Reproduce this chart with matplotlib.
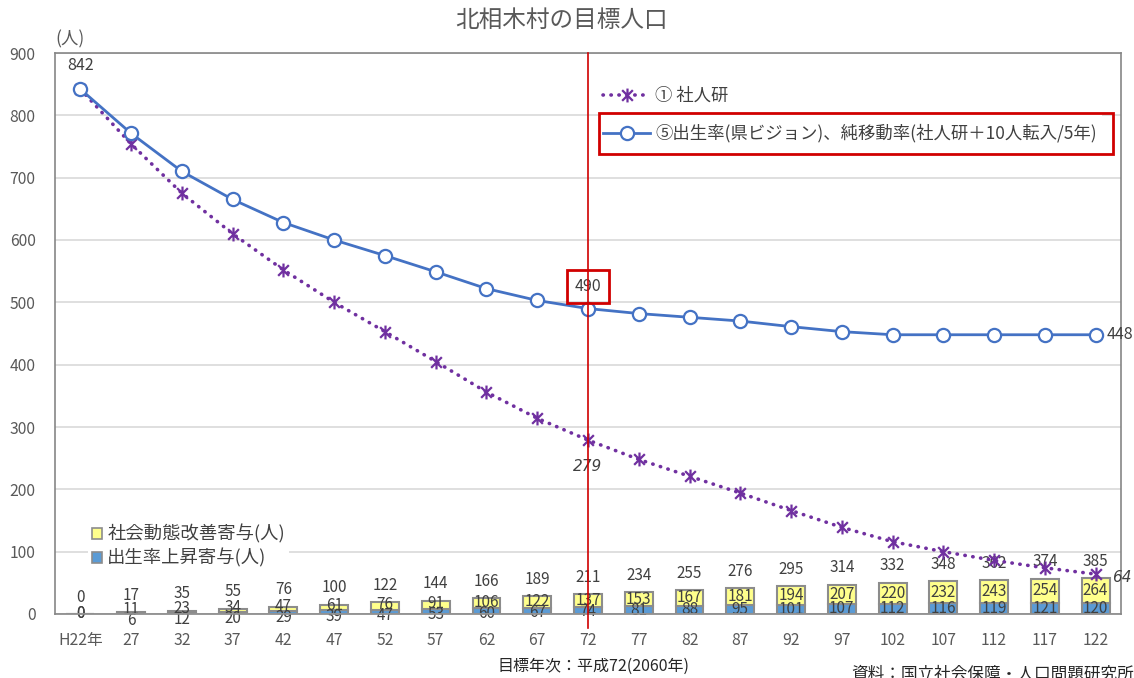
import matplotlib
matplotlib.use("Agg")
import matplotlib.pyplot as plt
from matplotlib.path import Path
from matplotlib.patches import Rectangle, Patch

plt.rcParams["font.family"] = ["Noto Sans CJK JP", "DejaVu Sans"]

# ---- data -------------------------------------------------------------
title = "北相木村の目標人口"
years = ["H22年", "27", "32", "37", "42", "47", "52", "57", "62", "67", "72",
         "77", "82", "87", "92", "97", "102", "107", "112", "117", "122"]
pop_ipss = [842, 754, 675, 610, 552, 500, 453, 405, 356, 314, 279,
            248, 221, 194, 166, 139, 116, 100, 86, 74, 64]
pop_vision = [842, 771, 710, 665, 628, 600, 575, 549, 522, 503, 490,
              482, 476, 470, 461, 453, 448, 448, 448, 448, 448]
birth_contrib = [0, 6, 12, 20, 29, 39, 47, 53, 60, 67, 74,
                 81, 88, 95, 101, 107, 112, 116, 119, 121, 120]
social_contrib = [0, 11, 23, 34, 47, 61, 76, 91, 106, 122, 137,
                  153, 167, 181, 194, 207, 220, 232, 243, 254, 264]
total_contrib = [0, 17, 35, 55, 76, 100, 122, 144, 166, 189, 211,
                 234, 255, 276, 295, 314, 332, 348, 362, 374, 385]
label_ipss = "① 社人研"
label_vision = "⑤出生率(県ビジョン)、純移動率(社人研＋10人転入/5年)"
label_social = "社会動態改善寄与(人)"
label_birth = "出生率上昇寄与(人)"
target_index = 10  # 平成72年

# ---- style --------------------------------------------------------------
C_TEXT = "#595959"
C_LABEL = "#404040"
C_GRID = "#D9D9D9"
C_SPINE = "#868686"
C_PURPLE = "#7030A0"
C_BLUE = "#4472C4"
C_BAR_BLUE = "#5B9BD5"
C_BAR_YEL = "#FFFF8C"
C_BAR_EDGE = "#8C8C8C"
C_RED = "#D00000"

W, H, DPI = 1134, 678, 100
fig = plt.figure(figsize=(W / DPI, H / DPI), dpi=DPI)
L, R, T, B = 55, 1121, 53, 614
ax = fig.add_axes([L / W, 1 - B / H, (R - L) / W, (B - T) / H])
ax2 = ax.twinx()

x = list(range(len(years)))

# stacked contribution bars on a hidden secondary scale
bar_w = 0.55
ax2.bar(x, birth_contrib, width=bar_w, color=C_BAR_BLUE, edgecolor=C_BAR_EDGE, linewidth=1.5)
ax2.bar(x, social_contrib, width=bar_w, bottom=birth_contrib, color=C_BAR_YEL,
        edgecolor=C_BAR_EDGE, linewidth=1.5)
ax2.set_ylim(0, 6000)
ax2.set_yticks([])
for s in ax2.spines.values():
    s.set_visible(False)

px_per_unit = (B - T) / 6000.0
pt_per_px = 72.0 / DPI
for i in x:
    b, s = birth_contrib[i], social_contrib[i]
    bc = b / 2 * px_per_unit
    yc = (b + s / 2) * px_per_unit
    push_b = push_y = 0.0
    sep = yc - bc
    if (b or s) and sep < 11:
        need = 11 - sep
        push_b, push_y = -0.7 * need, 0.3 * need
    ax2.annotate(str(s), xy=(i, b + s / 2), xytext=(0, push_y * pt_per_px),
                 textcoords="offset points", ha="center", va="center",
                 fontsize=11, color=C_LABEL)
    ax2.annotate(str(b), xy=(i, b / 2), xytext=(0, push_b * pt_per_px),
                 textcoords="offset points", ha="center", va="center",
                 fontsize=11, color=C_LABEL)
    ax2.annotate(str(total_contrib[i]), xy=(i, b + s), xytext=(0, 17 * pt_per_px),
                 textcoords="offset points", ha="center", va="center",
                 fontsize=11, color=C_LABEL)

# population lines on the primary scale, drawn above the bars
ax.set_zorder(ax2.get_zorder() + 1)
ax.patch.set_visible(False)

star = Path([(-1, -1), (1, 1), (-1, 1), (1, -1), (0, -1.3), (0, 1.3)],
            [Path.MOVETO, Path.LINETO] * 3)
ln_ipss, = ax.plot(x, pop_ipss, color=C_PURPLE, lw=2.6, linestyle=(0, (0.1, 2.1)),
                   dash_capstyle="round", marker=star, markersize=10,
                   markeredgewidth=1.6, markeredgecolor=C_PURPLE, markerfacecolor="none",
                   label=label_ipss, zorder=3)
ln_vis, = ax.plot(x, pop_vision, color=C_BLUE, lw=2, marker="o", markersize=9.5,
                  markerfacecolor="white", markeredgecolor=C_BLUE, markeredgewidth=1.6,
                  label=label_vision, zorder=4)

ax.set_xlim(-0.5, len(years) - 0.5)
ax.set_ylim(0, 900)
ax.set_yticks(range(0, 901, 100))
ax.set_xticks(x)
ax.set_xticklabels(years)
ax.tick_params(axis="both", length=0, labelsize=11.3, colors=C_TEXT)
ax.tick_params(axis="y", pad=14)
ax.tick_params(axis="x", pad=13)
ax.grid(axis="y", color=C_GRID, lw=1.2)
ax.set_axisbelow(True)
for s in ax.spines.values():
    s.set_color(C_SPINE)
    s.set_linewidth(1.2)

# value callouts
ax.annotate(str(pop_vision[0]), xy=(0, pop_vision[0]), xytext=(0, 24 * pt_per_px),
            textcoords="offset points", ha="center", va="center", fontsize=11.5, color=C_LABEL)
ax.annotate(str(pop_vision[-1]), xy=(x[-1], pop_vision[-1]), xytext=(11 * pt_per_px, 0),
            textcoords="offset points", ha="left", va="center", fontsize=11.5, color=C_LABEL)
ax.annotate(str(pop_ipss[-1]), xy=(x[-1], pop_ipss[-1]), xytext=(16 * pt_per_px, -3 * pt_per_px),
            textcoords="offset points", ha="left", va="center", fontsize=11,
            color=C_LABEL, family="DejaVu Sans", style="oblique")
ax.annotate(str(pop_ipss[target_index]), xy=(target_index, pop_ipss[target_index]),
            xytext=(0, -26 * pt_per_px), textcoords="offset points", ha="center",
            va="center", fontsize=11, color=C_LABEL, family="DejaVu Sans", style="oblique")
ax.annotate(str(pop_vision[target_index]), xy=(target_index, pop_vision[target_index]),
            xytext=(0, 22 * pt_per_px), textcoords="offset points", ha="center",
            va="center", fontsize=11.5, color=C_LABEL, zorder=6,
            bbox=dict(boxstyle="square,pad=0.5", fc="none", ec=C_RED, lw=2))

# target-year marker line
ax.axvline(target_index, ymin=-0.025, ymax=1, color=C_RED, lw=1.2, clip_on=False, zorder=7)

# legends
leg1 = ax.legend(handles=[ln_ipss, ln_vis], loc="upper left",
                 bbox_to_anchor=(598 / W, 1 - 82 / H), bbox_transform=fig.transFigure,
                 fontsize=12.5, frameon=True, facecolor="white", edgecolor="none",
                 framealpha=1, fancybox=False, handlelength=2.7, handletextpad=0.3,
                 labelspacing=1.08, borderpad=0.3, borderaxespad=0, numpoints=1,
                 labelcolor=C_LABEL)
leg1.set_zorder(5)
ax.add_artist(leg1)
bar_handles = [Patch(facecolor=C_BAR_YEL, edgecolor=C_BAR_EDGE, lw=1.2),
               Patch(facecolor=C_BAR_BLUE, edgecolor=C_BAR_EDGE, lw=1.2)]
leg2 = ax.legend(handles=bar_handles, labels=[label_social, label_birth],
                 loc="upper left", bbox_to_anchor=(88 / W, 1 - 521 / H),
                 bbox_transform=fig.transFigure, fontsize=13.2, frameon=True,
                 facecolor="white", edgecolor="none", framealpha=1, fancybox=False,
                 handlelength=0.55, handleheight=0.55, handletextpad=0.3,
                 labelspacing=0.25, borderpad=0.2, borderaxespad=0, labelcolor=C_LABEL)
leg2.set_zorder(5)

# titles and notes
fig.text(562 / W, 1 - 20 / H, title, ha="center", va="center", fontsize=17, color=C_TEXT)
fig.text(55 / W, 1 - 39 / H, "(人)", ha="left", va="center", fontsize=12.5, color=C_TEXT)
fig.text(594 / W, 1 - 666 / H, "目標年次：平成72(2060年)", ha="center", va="center",
         fontsize=11.5, color="#262626")
fig.text(851 / W, 1 - 674 / H, "資料：国立社会保障・人口問題研究所", ha="left", va="center",
         fontsize=12, color="#262626")

# outline the second legend entry
fig.canvas.draw()
renderer = fig.canvas.get_renderer()
bb = leg1.get_texts()[1].get_window_extent(renderer)
yc = (bb.y0 + bb.y1) / 2
x0, x1 = bb.x0 - 56, bb.x1 + 16
fig.patches.append(Rectangle((x0 / W, (yc - 20.5) / H), (x1 - x0) / W, 41 / H,
                             transform=fig.transFigure, fill=False, ec=C_RED, lw=2,
                             zorder=10))

fig.savefig("out.png", dpi=DPI)
